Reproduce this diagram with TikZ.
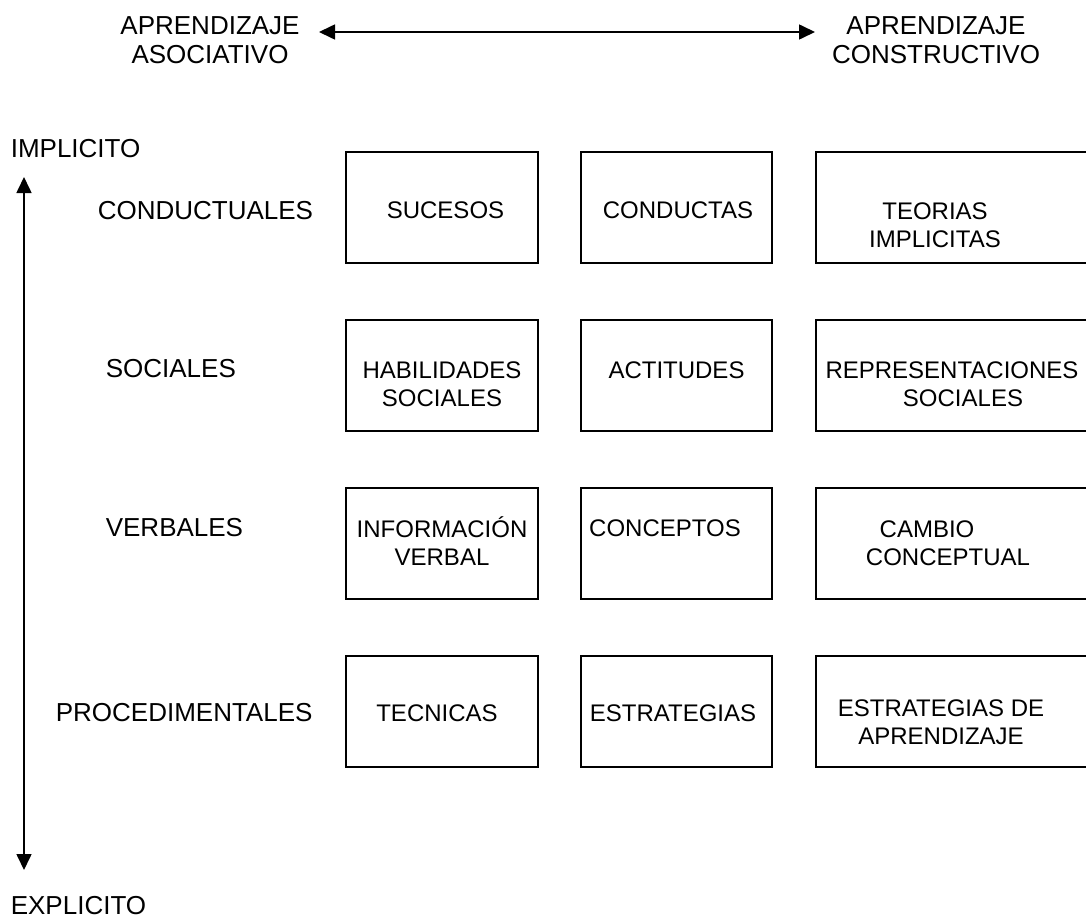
\documentclass[tikz,border=0pt]{standalone}
\usepackage{fontspec}
\setmainfont{Liberation Sans}
\usetikzlibrary{arrows.meta}

\begin{document}
\begin{tikzpicture}[x=1pt,y=-1pt,>={Triangle[length=16pt,width=15pt]},
                    line width=1.6pt]
  \tikzstyle{cell}=[draw=black,rectangle,inner sep=0pt,minimum height=111pt]
  \tikzstyle{word}=[anchor=base,align=center,inner sep=0pt,font=\fontsize{24}{28}\selectfont]
  \tikzstyle{head}=[anchor=base,align=center,inner sep=0pt,font=\fontsize{26}{29}\selectfont]
  \tikzstyle{side}=[anchor=base west,inner sep=0pt,font=\fontsize{26}{29}\selectfont]

  \useasboundingbox (0,0) rectangle (1086,918);

  % boxes
  \node[cell,minimum width=192pt] (s11) at (442,207.5) {};
  \node[cell,minimum width=191pt] (s12) at (676.5,207.5) {};
  \node[cell,minimum width=290pt] (s13) at (961,207.5) {};
  \node[cell,minimum width=192pt] (s21) at (442,375.5) {};
  \node[cell,minimum width=191pt] (s22) at (676.5,375.5) {};
  \node[cell,minimum width=290pt] (s23) at (961,375.5) {};
  \node[cell,minimum width=192pt] (s31) at (442,543.5) {};
  \node[cell,minimum width=191pt] (s32) at (676.5,543.5) {};
  \node[cell,minimum width=290pt] (s33) at (961,543.5) {};
  \node[cell,minimum width=192pt] (s41) at (442,711.5) {};
  \node[cell,minimum width=191pt] (s42) at (676.5,711.5) {};
  \node[cell,minimum width=290pt] (s43) at (961,711.5) {};

  % box texts (base = last line)
  \node[word] (w11) at (445.5,218.6) {SUCESOS};
  \node[word] (w12) at (678,218.6) {CONDUCTAS};
  \node[word] (w13) at (935,247.6) {TEORIAS\\IMPLICITAS};
  \node[word] (w21) at (442,406.6) {HABILIDADES\\SOCIALES};
  \node[word] (w22) at (676.5,378.6) {ACTITUDES};
  \node[word] (w23) at (963,406.6) {REPRESENTACIONES\hspace*{22pt}\\SOCIALES};
  \node[word] (w31) at (442,565.6) {INFORMACIÓN\\VERBAL};
  \node[word] (w32) at (665,536.6) {CONCEPTOS};
  \node[word] (w33) at (948,565.6) {CAMBIO\hspace*{42pt}\\CONCEPTUAL};
  \node[word] (w41) at (437,721.6) {TECNICAS};
  \node[word] (w42) at (673,721.6) {ESTRATEGIAS};
  \node[word] (w43) at (941,744.6) {ESTRATEGIAS DE\\APRENDIZAJE};

  % row labels
  \node[side] (l1) at (97,219.3) {CONDUCTUALES};
  \node[side] (l2) at (105,377.3) {SOCIALES};
  \node[side] (l3) at (105,536.3) {VERBALES};
  \node[side] (l4) at (55,721.3) {PROCEDIMENTALES};

  % axes
  \node[side] (impl) at (10,157.3) {IMPLICITO};
  \node[side] (expl) at (10,914.3) {EXPLICITO};
  \node[head] (asoc) at (210,63.3) {APRENDIZAJE\\ASOCIATIVO};
  \node[head] (cons) at (936,63.3) {APRENDIZAJE\\CONSTRUCTIVO};

  \coordinate (a1) at (319,32);
  \coordinate (a2) at (815,32);
  \coordinate (v1) at (24,177);
  \coordinate (v2) at (24,870);
  \draw[<->] (a1) -- (a2);
  \draw[<->] (v1) -- (v2);
\end{tikzpicture}
\end{document}
